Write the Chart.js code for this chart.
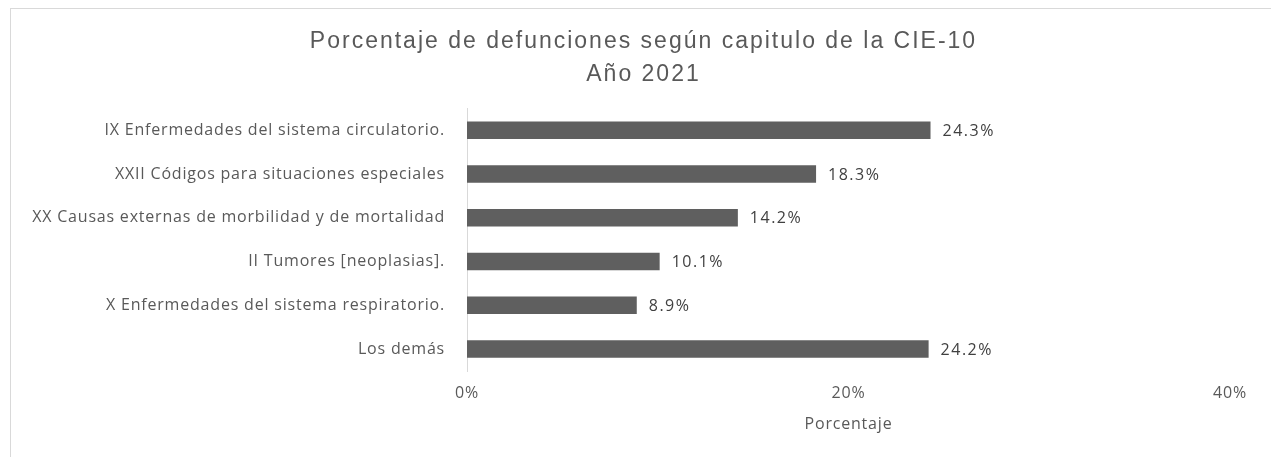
<!DOCTYPE html>
<html>
<head>
<meta charset="utf-8">
<script src="https://cdn.jsdelivr.net/npm/chart.js@4.4.0/dist/chart.umd.min.js"></script>
<style>
    html, body { margin: 0; padding: 0; background: #fff; overflow: hidden; }
    #frame {
        position: absolute;
        left: 10px;
        top: 8px;
        width: 1266px;
        height: 460px;
        border-left: 1px solid #d9d9d9;
        border-top: 1px solid #d9d9d9;
        box-sizing: border-box;
    }
    #frame canvas { display: block; }
</style>
</head>
<body>
<div id="frame"><canvas id="chart"></canvas></div>
<script>
// --- Data ---
const categories = [
    'IX Enfermedades del sistema circulatorio.',
    'XXII Códigos para situaciones especiales',
    'XX Causas externas de morbilidad y de mortalidad',
    'II Tumores [neoplasias].',
    'X Enfermedades del sistema respiratorio.',
    'Los demás'
];
const percentages = [24.3, 18.3, 14.2, 10.1, 8.9, 24.2];
const xTicks = [0, 20, 40];
const titleLines = ['Porcentaje de defunciones según capitulo de la CIE-10', 'Año 2021'];
const xAxisTitle = 'Porcentaje';

const labelFont = "'Open Sans', sans-serif";
const rightPad = 46;

// the source picture has wide, spaced-out lettering
const spacing = {
    id: 'spacing',
    beforeDraw(chart) { chart.ctx.letterSpacing = '0.8px'; },
    afterDraw(chart) { chart.ctx.letterSpacing = '0px'; }
};

// draws the value next to each bar
const valueLabels = {
    id: 'valueLabels',
    afterDatasetsDraw(chart) {
        const ctx = chart.ctx;
        const meta = chart.getDatasetMeta(0);
        ctx.save();
        ctx.letterSpacing = '1.5px';
        ctx.font = `16px ${labelFont}`;
        ctx.fillStyle = '#404040';
        ctx.textAlign = 'left';
        ctx.textBaseline = 'middle';
        meta.data.forEach((bar, i) => {
            ctx.fillText(percentages[i].toFixed(1) + '%', bar.x + 12, bar.y + 1);
        });
        ctx.restore();
    }
};

const ctx = document.getElementById('chart').getContext('2d');
const chart = new Chart(ctx, {
    type: 'bar',
    data: {
        labels: categories,
        datasets: [{
            data: percentages,
            backgroundColor: '#5f5f5f',
            borderWidth: 0,
            categoryPercentage: 0.4,
            barPercentage: 1.0
        }]
    },
    options: {
        indexAxis: 'y',
        responsive: true,
        maintainAspectRatio: false,
        animation: false,
        layout: { padding: { left: 0, right: rightPad, top: 0, bottom: 0 } },
        scales: {
            x: {
                min: 0,
                max: 40,
                afterBuildTicks: (scale) => { scale.ticks = xTicks.map(v => ({ value: v })); },
                afterFit: (scale) => { scale.height = 97; },
                grid: { display: false, drawTicks: false },
                border: { display: false },
                ticks: {
                    padding: 13,
                    color: '#595959',
                    font: { family: labelFont, size: 16 },
                    callback: (v) => v + '%'
                },
                title: {
                    display: true,
                    text: xAxisTitle,
                    color: '#595959',
                    font: { family: labelFont, size: 16 },
                    padding: { top: 8, bottom: 34 }
                }
            },
            y: {
                afterFit: (scale) => { scale.width = 456; },
                grid: { display: false, drawTicks: false },
                border: { display: true, color: '#d9d9d9', width: 1 },
                ticks: {
                    padding: 22,
                    color: '#595959',
                    font: { family: labelFont, size: 16 }
                }
            }
        },
        plugins: {
            legend: { display: false },
            tooltip: { enabled: false },
            title: {
                display: true,
                text: titleLines,
                color: '#595959',
                font: { family: "'Liberation Sans', Arial, sans-serif", size: 23, weight: 'normal', lineHeight: 1.4 },
                padding: { top: 17, bottom: 18 }
            }
        }
    },
    plugins: [spacing, valueLabels]
});

// title: wider tracking, and centred on the whole frame rather than the padded area
const titleDraw = chart.titleBlock.draw;
chart.titleBlock.draw = function () {
    const c = this.ctx;
    c.save();
    c.letterSpacing = '2px';
    c.translate(rightPad / 2, 0);
    titleDraw.apply(this, arguments);
    c.restore();
};
chart.draw();
</script>
</body>
</html>
